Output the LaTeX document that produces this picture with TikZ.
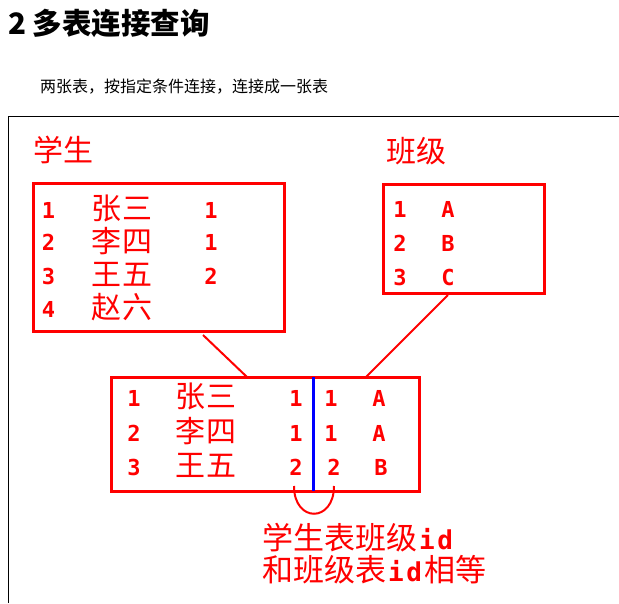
\documentclass[tikz,border=0pt]{standalone}
\usepackage{fontspec}
\newfontfamily\cjk{Noto Sans CJK SC}
\newfontfamily\mono{DejaVu Sans Mono}
\newcommand\idtext{{\mono\bfseries\fontsize{26}{26}\selectfont\kern2pt i\kern2.5pt d\kern2pt}}
\begin{document}
\begin{tikzpicture}[x=1pt,y=-1pt,
  tbox/.style={draw=red,line width=3pt,inner sep=0pt},
  num/.style={text=red,inner sep=0pt,font=\mono\bfseries\fontsize{22}{22}\selectfont},
  han/.style={text=red,inner sep=0pt,font=\cjk\fontsize{30}{30}\selectfont},
  conn/.style={draw=red,line width=2pt},
  note/.style={text=red,inner sep=0pt,anchor=west,font=\cjk\fontsize{31}{30}\selectfont}]
\useasboundingbox (0,0) rectangle (619,603);
% title and subtitle
\node[anchor=west,inner sep=0pt,font=\cjk\bfseries\fontsize{29.5}{30}\selectfont] (title) at (8,23.5) {2 多表连接查询};
\node[anchor=west,inner sep=0pt,font=\cjk\fontsize{16}{16}\selectfont] (sub) at (40,87) {两张表，按指定条件连接，连接成一张表};
% outer frame
\coordinate (f1) at (8,603);
\coordinate (f2) at (8,116);
\coordinate (f3) at (619,116);
\draw[line width=1pt] (f1) -- (f2) -- (f3);
% labels
\node[han] (lstu) at (64,150) {学生};
\node[han] (lcls) at (416,151) {班级};
% student box
\node[tbox,minimum width=251pt,minimum height=148pt] (stu) at (158.5,257) {};
\node[num] (s11) at (48.5,210) {1};
\node[han] (s12) at (122,208) {张\kern2pt三};
\node[num] (s13) at (211,210) {1};
\node[num] (s21) at (48.5,242.5) {2};
\node[han] (s22) at (122,241) {李\kern2pt四};
\node[num] (s23) at (211,242.5) {1};
\node[num] (s31) at (48.5,276) {3};
\node[han] (s32) at (122,274) {王\kern2pt五};
\node[num] (s33) at (211,276) {2};
\node[num] (s41) at (48.5,309) {4};
\node[han] (s42) at (122,307) {赵\kern2pt六};
% class box
\node[tbox,minimum width=161pt,minimum height=109pt] (cls) at (463.5,238.5) {};
\node[num] (c11) at (400,209) {1};
\node[num] (c12) at (448,209) {A};
\node[num] (c21) at (400,243) {2};
\node[num] (c22) at (448,243) {B};
\node[num] (c31) at (400,277) {3};
\node[num] (c32) at (448,277) {C};
% result box
\node[tbox,minimum width=308pt,minimum height=114pt] (res) at (265,434) {};
\node[num] (r11) at (134,398) {1};
\node[han] (r12) at (206,396) {张\kern2pt三};
\node[num] (r13) at (296,398) {1};
\node[num] (r14) at (331,398) {1};
\node[num] (r15) at (379,398) {A};
\node[num] (r21) at (134,433) {2};
\node[han] (r22) at (206,431) {李\kern2pt四};
\node[num] (r23) at (296,433) {1};
\node[num] (r24) at (331,433) {1};
\node[num] (r25) at (379,433) {A};
\node[num] (r31) at (134,467) {3};
\node[han] (r32) at (206,465) {王\kern2pt五};
\node[num] (r33) at (296,467) {2};
\node[num] (r34) at (334,467) {2};
\node[num] (r35) at (381,467) {B};
% divider
\coordinate (d1) at (313,377);
\coordinate (d2) at (313,491);
\draw[blue,line width=3pt] (d1) -- (d2);
% connectors
\coordinate (a1) at (203,335);
\coordinate (a2) at (247,377);
\coordinate (b1) at (448,295);
\coordinate (b2) at (365,378);
\draw[conn] (a1) -- (a2);
\draw[conn] (b1) -- (b2);
% arc
\coordinate (u1) at (294,486);
\coordinate (u2) at (334,486);
\draw[conn] (u1) .. controls (294,523) and (334,523) .. (u2);
% note
\node[note] (n1) at (262,538) {学生表班级\idtext};
\node[note] (n2) at (262,570) {和班级表\idtext 相等};
\end{tikzpicture}
\end{document}
